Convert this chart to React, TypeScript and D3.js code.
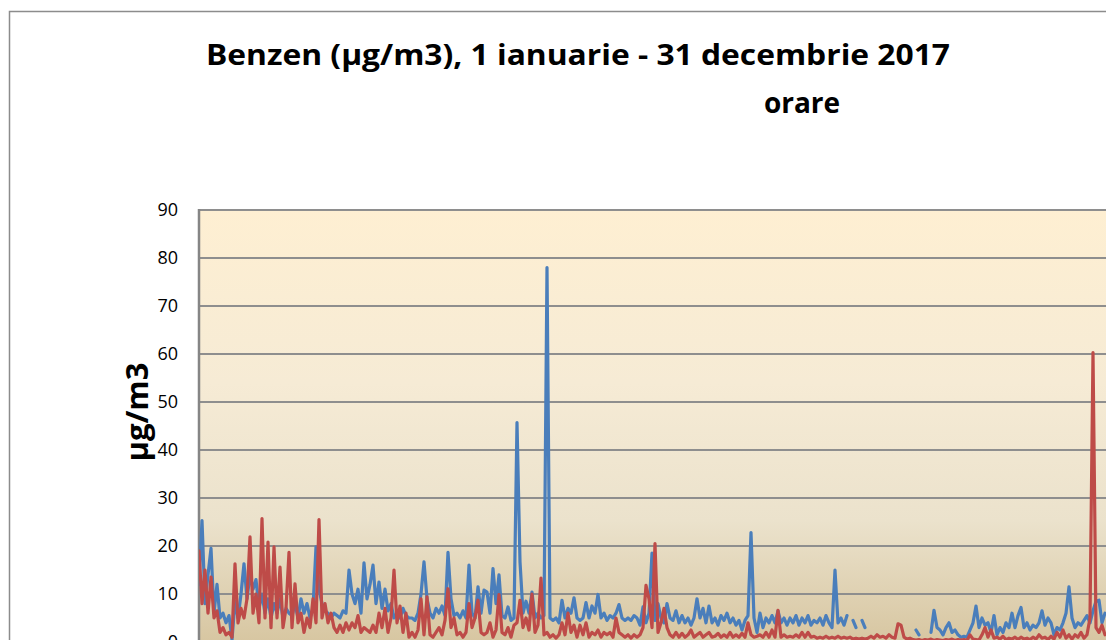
import React from 'react';
import * as d3 from 'd3';

// valori orare esantionate (µg/m3)
const blueSeries: (number | null)[] = [
  12, 25.3, 8, 14, 19.5, 6, 12, 5, 6, 4,
  5.5, 0.5, 8.5, 5, 10, 16.3, 9, 14, 11, 13,
  7, 10, 6, 9, 5, 8, 6, 9, 5, 7,
  6, 5.5, 8, 5, 9, 6, 8, 5, 7, 19.8,
  11, 8, 6.5, 6, 5, 6, 5.5, 5, 6.5, 6,
  15, 10, 8, 11, 6, 16.5, 9, 12, 16, 8,
  12.5, 7, 11, 6.5, 8, 5, 6, 5, 7, 5.5,
  5, 5, 4.5, 6, 10, 16.7, 9, 6, 5, 7,
  6, 7.5, 5.5, 18.7, 9, 5.5, 6, 5, 6.5, 5,
  16, 6, 5, 11.5, 6, 10.8, 10.4, 6, 15.3, 8,
  14, 5.5, 5, 7.3, 4.5, 5, 45.7, 16.7, 6, 8.5,
  6, 10.4, 5, 6, 5, 5.5, 78, 5, 4.5, 5,
  4, 8.7, 5, 7, 6, 9.2, 5, 4.5, 5, 8.2,
  5, 7.5, 6, 9.9, 5, 6, 4.5, 5.5, 5, 6,
  7.8, 5, 4.5, 5, 4.5, 5.5, 5, 3.5, 7.3, 4,
  6, 18.5, 4.5, 8, 5, 4, 8, 5, 4.5, 6.5,
  4, 5.5, 4, 5, 3.5, 5, 9, 5, 7, 4,
  7.5, 4, 5, 3.5, 5.5, 4.5, 6, 4, 5, 3.5,
  4.5, 2.5, 4.5, 5.5, 22.8, 5, 2, 6, 3, 5,
  4, 5.5, 4, 6.5, 4, 5, 3.5, 5, 4, 5.5,
  3.5, 5, 4, 5.5, 3.5, 4.5, 4, 5, 3.5, 5.5,
  4, 3, 15, 4, 5, 3.5, 5.5, null, 4.5, 3,
  null, 4.5, 3, null, null, null, null, null, null, null,
  null, null, null, null, null, null, null, null, null, 2.5,
  1.5, null, null, null, 2, 6.6, 3, 2.5, 1.5, 3,
  4, 2, 2.5, 1.5, 1, 1.2, 1, 2.5, 4, 7.5,
  3, 5, 3.5, 4, 2, 5.5, 1.5, 3, 2, 4,
  3, 6, 3, 5.5, 7.2, 3, 4, 2.5, 3.5, 3,
  4, 6.5, 3.5, 5, 4, 1.5, 3, 2.5, 4, 6,
  11.5, 5, 3, 4, 3.5, 4.5, 5.5, 4, 6.5, 8.5,
  8.7, 4, 6
];

const redSeries: (number | null)[] = [
  19, 8, 15, 6, 13.5, 5, 6.5, 2, 3, 1.5,
  2, 1, 16.3, 4, 7, 5, 9, 21.9, 6, 10,
  4, 25.7, 5, 20.8, 3, 19.8, 5, 15.6, 3, 7,
  18.7, 3, 12.1, 4, 6, 2, 5, 3, 9, 4,
  25.5, 5, 8, 4, 6, 3, 2, 3.5, 2, 4,
  2.5, 4, 3, 5.5, 2, 3, 2.5, 2, 3.5, 2,
  6, 3, 7, 2, 5, 15, 4, 7.5, 2, 6,
  1, 2, 1, 2.5, 9, 1.5, 9.4, 1.5, 1, 2,
  3, 1.5, 4.5, 11.1, 3, 5, 1.5, 2, 1, 2,
  8, 3, 5, 8.7, 2, 1.5, 2, 4, 1, 2.5,
  9.9, 2, 1.5, 3, 1, 3.5, 4, 8.7, 3, 5,
  2.5, 10, 2, 3.5, 13.3, 1.5, 2, 1, 1.5, 0.8,
  1.5, 4, 1.5, 6, 2, 3.5, 1, 3.5, 1.5, 4,
  1, 2, 1.5, 2.5, 1, 2, 1.5, 2, 1, 5,
  2, 1.5, 1, 1.5, 0.8, 1.5, 1, 1.5, 3, 11.8,
  9, 3, 20.5, 2, 4, 7, 3, 1.5, 1, 2,
  1, 1.8, 1, 1.5, 2.5, 1, 1.5, 2, 1, 1.5,
  2, 1, 1.2, 1.8, 1, 1.5, 1, 2, 1, 1.5,
  1, 1.8, 1, 4, 1.5, 1, 1.2, 1.5, 1, 2,
  1, 2.5, 1, 6.6, 1, 1.5, 1, 1.2, 1, 1.5,
  1, 2, 1, 2, 1, 1.2, 0.8, 1, 0.8, 1.2,
  0.8, 1, 0.8, 1.2, 0.8, 1, 0.8, 1, 0.6, 0.8,
  0.6, 0.8, 0.6, 0.8, 1.2, 0.8, 1.5, 1, 1.2, 0.8,
  1.5, 1, 0.8, 3.8, 3.5, 1, 0.6, 0.8, 0.5, 0.4,
  0.5, 0.3, 0.5, 0.4, 0.6, 0.3, 0.5, 0.4, 0.3, 0.5,
  0.4, 0.6, 0.3, 0.5, 0.4, 0.5, 0.3, 1.5, 0.6, 0.5,
  0.4, 1.5, 3, 1, 2.5, 0.8, 1, 0.6, 1.2, 0.5,
  0.8, 0.6, 1, 0.5, 1, 0.6, 0.8, 0.5, 1, 0.6,
  1.5, 0.8, 1, 0.5, 1.2, 0.6, 2, 1, 2.5, 0.8,
  1.5, 0.6, 1.5, 1, 2, 0.8, 1.5, 5, 60.3, 3,
  2, 3.5, 1.5
];

const yTicks = [0, 10, 20, 30, 40, 50, 60, 70, 80, 90];
const titleLine1 = 'Benzen (µg/m3), 1 ianuarie - 31 decembrie 2017';
const titleLine2 = 'orare';
const yLabel = 'µg/m3';

const W = 1106;
const H = 640;
const margin = { top: 210, left: 199, right: 1105, bottom: 642 };
const font = '"Open Sans", "DejaVu Sans", sans-serif';

export default function App() {
  const n = Math.max(blueSeries.length, redSeries.length);
  const x = d3.scaleLinear().domain([0, n - 1]).range([margin.left, margin.right]);
  const y = d3.scaleLinear().domain([0, 90]).range([margin.bottom, margin.top]);

  const line = d3.line<number | null>()
    .defined(d => d !== null)
    .x((d, i) => x(i))
    .y(d => y(d as number));

  return (
    <div style={{ position: 'fixed', left: 0, top: 0, width: W, height: H, overflow: 'hidden', background: '#fff' }}>
      <svg width={W} height={H} style={{ display: 'block' }}>
        <defs>
          <linearGradient id="plotBg" x1="0" y1="0" x2="0" y2="1">
            <stop offset="0%" stopColor="#feefd2" />
            <stop offset="40%" stopColor="#f6ebd5" />
            <stop offset="72%" stopColor="#ebe2cc" />
            <stop offset="100%" stopColor="#d7c6a1" />
          </linearGradient>
          <clipPath id="plotClip">
            <rect x={margin.left} y={margin.top - 2} width={W - margin.left + 10} height={margin.bottom - margin.top + 4} />
          </clipPath>
        </defs>

        {/* borde exterior */}
        <rect x={9.5} y={11.5} width={1300} height={900} fill="#fff" stroke="#8c8c8c" strokeWidth={1.5} />

        {/* titulo */}
        <text x={206} y={65} fontFamily={font} fontWeight="bold" fontSize={28}
          textLength={744} lengthAdjust="spacingAndGlyphs">{titleLine1}</text>
        <text x={802} y={113} fontFamily={font} fontWeight="bold" fontSize={28}
          textAnchor="middle">{titleLine2}</text>

        {/* area del grafico */}
        <rect x={margin.left} y={margin.top} width={W - margin.left + 10}
          height={margin.bottom - margin.top} fill="url(#plotBg)" />

        {yTicks.map(t => (
          <g key={t}>
            <line x1={margin.left} x2={W + 10} y1={y(t)} y2={y(t)} stroke="#8e8e8e" strokeWidth={2} />
            <text x={178} y={y(t)} dy="0.36em" textAnchor="end" fontFamily={font} fontSize={18} fill="#000">{t}</text>
          </g>
        ))}
        <line x1={margin.left} x2={margin.left} y1={margin.top - 1} y2={margin.bottom} stroke="#858585" strokeWidth={2.5} />

        <text transform={`translate(148,412) rotate(-90)`} textAnchor="middle" fontFamily={font}
          fontWeight="bold" fontSize={31} fill="#000">{yLabel}</text>

        <g clipPath="url(#plotClip)">
          <path d={line(blueSeries) || ''} fill="none" stroke="#4a7ebb" strokeWidth={3.2} strokeLinejoin="round" strokeLinecap="round" />
          <path d={line(redSeries) || ''} fill="none" stroke="#be4b48" strokeWidth={3.2} strokeLinejoin="round" strokeLinecap="round" />
        </g>
      </svg>
    </div>
  );
}
